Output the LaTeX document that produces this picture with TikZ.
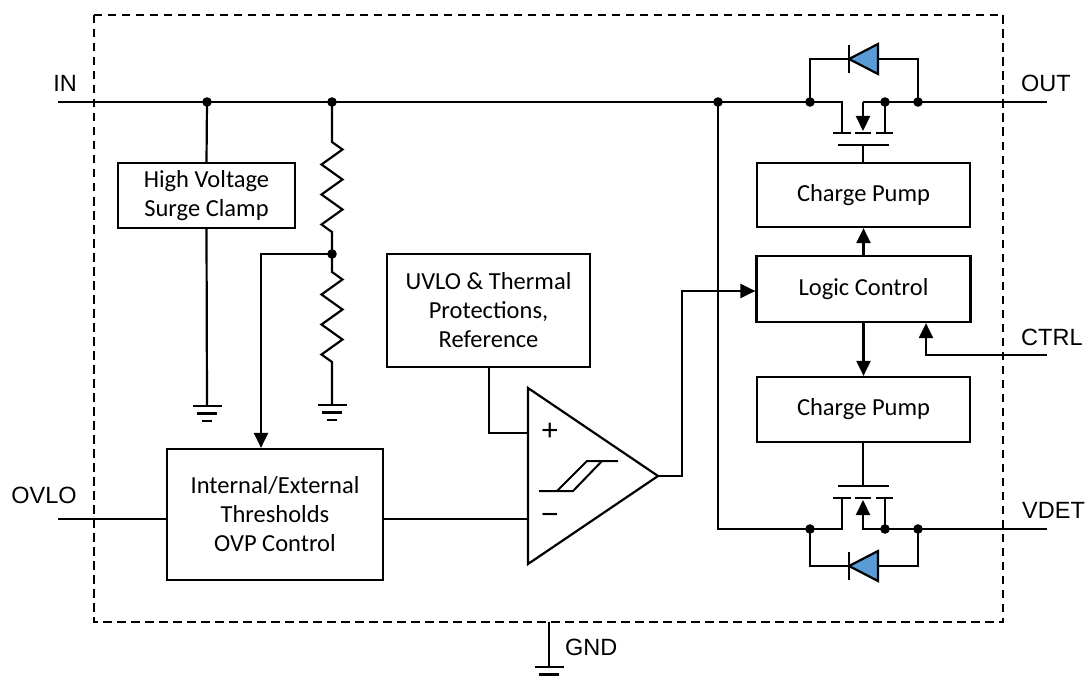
\documentclass[tikz,border=0pt]{standalone}
\usepackage{fontspec}
\setmainfont{Liberation Sans}
\newfontfamily\blockfont{Carlito}
\usetikzlibrary{arrows.meta}
\definecolor{diodeblue}{RGB}{91,155,213}
\tikzset{gnd/.pic={\draw[line width=2.2pt] (-14.5,0)--(14.5,0) (-10,7.5)--(10,7.5) (-5,15)--(5,15);}}
\begin{document}
\begin{tikzpicture}[x=1pt,y=-1pt,
  wire/.style={line width=2.2pt},
  blk/.style={draw,line width=2.2pt,align=center,inner sep=0pt,
    font=\blockfont\fontsize{24.5}{29}\selectfont},
  pinlbl/.style={font=\fontsize{23.5}{27}\selectfont,inner sep=0pt},
  arr/.style={-{Triangle[length=15pt,width=14pt]}},
  dotfill/.style={fill=black},
  diode/.style={draw,line width=2.2pt,fill=diodeblue,line join=miter}]
\useasboundingbox (0,0) rectangle (1086,679);

% dashed package outline
\draw[line width=2.2pt,dash pattern=on 8.5pt off 5.5pt] (94,15) rectangle (1003,622);

% coordinates
\coordinate (inL) at (58,102);
\coordinate (j1) at (207,102);
\coordinate (j2) at (332,102);
\coordinate (j3) at (718,102);
\coordinate (j4) at (810,102);
\coordinate (s1) at (863,102);
\coordinate (j5) at (885,102);
\coordinate (j6) at (918,102);
\coordinate (outR) at (1047,102);
\coordinate (jm) at (332,254);
\coordinate (kink) at (261,254);
\coordinate (ovloL) at (58,519);
\coordinate (cmpP) at (528,433);
\coordinate (cmpN) at (528,519);
\coordinate (cmpO) at (658,476);
\coordinate (uvp) at (489,433);
\coordinate (k2) at (682,291);
\coordinate (ctrlR) at (1047,355);
\coordinate (ctrlK) at (926,355);
\coordinate (b0) at (718,529);
\coordinate (b1) at (810,529);
\coordinate (b2) at (885,529);
\coordinate (b3) at (918,529);
\coordinate (vdetR) at (1047,529);
\coordinate (gndT) at (549,622);
\coordinate (gndB) at (549,667);

% blocks
\node[blk,minimum width=177pt,minimum height=65pt] (clamp) at (206.5,195.5) {High Voltage\\Surge Clamp};
\node[blk,minimum width=203pt,minimum height=113pt] (uvlo) at (488.5,310.5) {UVLO \& Thermal\\Protections,\\Reference};
\node[blk,minimum width=216pt,minimum height=131pt] (thr) at (275,514.5) {Internal/External\\Thresholds\\OVP Control};
\node[blk,minimum width=213pt,minimum height=64pt] (cp1) at (863.5,195) {Charge Pump};
\node[blk,minimum width=214pt,minimum height=66pt] (logic) at (863.5,289) {Logic Control};
\node[blk,minimum width=213pt,minimum height=65pt] (cp2) at (863.5,409.5) {Charge Pump};

% pin labels
\node[pinlbl,anchor=center] (lin) at (65,83) {IN};
\node[pinlbl,anchor=west] (lout) at (1021,83) {OUT};
\node[pinlbl,anchor=west] (lctrl) at (1021,337) {CTRL};
\node[pinlbl,anchor=west] (lvdet) at (1022,510) {VDET};
\node[pinlbl,anchor=center] (lovlo) at (44,495) {OVLO};
\node[pinlbl,anchor=west] (lgnd) at (565,647) {GND};

% IN rail and top MOSFET
\draw[wire] (inL) -- (842,102) -- (842,133);
\draw[wire] (outR) -- (s1);
\draw[wire,arr] (s1) -- (863,131);
\draw[wire] (j5) -- (885,133);
\draw[wire] (833,133) -- (851,133) (855,133) -- (871,133) (876,133) -- (893,133);
\draw[wire] (838,145) -- (889,145);
\draw[wire] (863,145) -- (cp1.north -| 863,0);
% top diode
\draw[wire] (j4) -- (810,59) -- (918,59) -- (j6);
\draw[diode] (849,59) -- (878,44) -- (878,74) -- cycle;
\draw[wire] (849,45) -- (849,73);

% surge clamp
\draw[wire] (j1) -- (clamp.north);
\draw[wire] (clamp.south) -- (207,406);
\pic at (207,406) {gnd};

% resistor divider
\draw[wire,line join=miter] (j2) -- (332,142) -- ++(10.5,7.5) -- ++(-21,15) -- ++(21,15) -- ++(-21,15) -- ++(21,15) -- ++(-21,15) -- ++(10.5,7.5) -- (jm);
\draw[wire,line join=miter] (jm) -- (332,272) -- ++(10.5,7.5) -- ++(-21,15) -- ++(21,15) -- ++(-21,15) -- ++(21,15) -- ++(-21,15) -- ++(10.5,7.5) -- (332,405);
\pic at (332,405) {gnd};
\draw[wire,arr] (jm) -- (kink) -- (kink |- thr.north);

% OVLO path
\draw[wire] (ovloL) -- (ovloL -| thr.west);
\draw[wire] (cmpN -| thr.east) -- (cmpN);

% UVLO to comparator
\draw[wire] (uvp |- uvlo.south) -- (uvp) -- (cmpP);

% comparator
\draw[wire,line join=miter] (528,388) -- (cmpO) -- (528,564) -- cycle;
\node[font=\fontsize{30}{34}\selectfont,inner sep=0pt] (plus) at (550,432) {+};
\node[font=\fontsize{30}{34}\selectfont,inner sep=0pt] (minus) at (550,519) {−};
\draw[line width=2pt] (539,491) -- (573,491) -- (602,461) -- (618,461);
\draw[line width=2pt] (557,491) -- (587,461) -- (602,461);

% comparator to logic
\draw[wire,arr] (cmpO) -- (682,476) -- (k2) -- (k2 -| logic.west);

% logic to charge pumps
\draw[wire,arr] (logic.north) -- (cp1.south);
\draw[wire,arr] (logic.south) -- (cp2.north);

% CTRL
\draw[wire,arr] (ctrlR) -- (ctrlK) -- (ctrlK |- logic.south);

% bottom MOSFET
\draw[wire] (cp2.south -| 863,0) -- (863,486);
\draw[wire] (838,486) -- (889,486);
\draw[wire] (833,498) -- (851,498) (855,498) -- (871,498) (876,498) -- (893,498);
\draw[wire] (j3) -- (b0) -- (842,529) -- (842,498);
\draw[wire,arr] (vdetR) -- (863,529) -- (863,500);
\draw[wire] (b2) -- (885,498);
% bottom diode
\draw[wire] (b1) -- (810,566) -- (918,566) -- (b3);
\draw[diode] (849,566) -- (878,551) -- (878,581) -- cycle;
\draw[wire] (849,552) -- (849,580);

% GND
\draw[wire] (gndT) -- (gndB);
\pic at (gndB) {gnd};

% junction dots
\foreach \p in {j1,j2,j3,j4,j5,j6,jm,b1,b2,b3}
  \fill[dotfill] (\p) circle (4.8);
\end{tikzpicture}
\end{document}
